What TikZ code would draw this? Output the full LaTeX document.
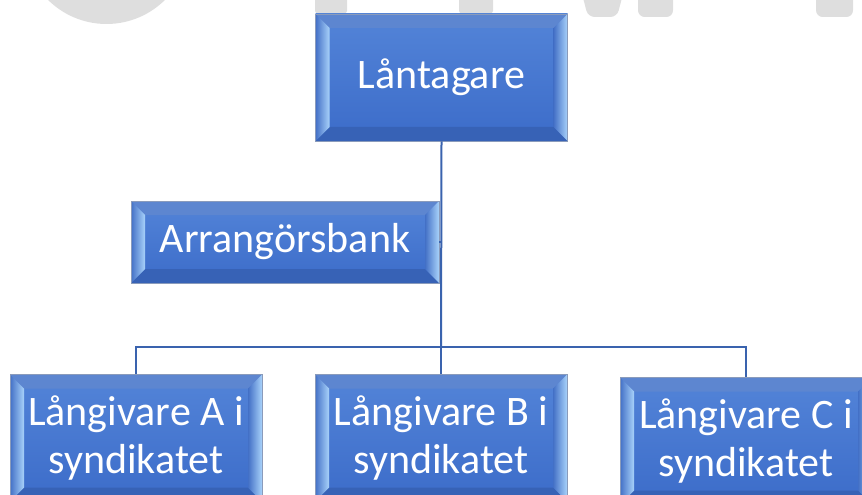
\documentclass[tikz,border=0pt]{standalone}
\usepackage{fontspec}
\setmainfont{Carlito}
\usetikzlibrary{calc}
\definecolor{facetop}{HTML}{5384D8}
\definecolor{facebot}{HTML}{3C6CC9}
\definecolor{bevtop}{HTML}{5D86D0}
\definecolor{bevbot}{HTML}{3762B6}
\definecolor{bevdark}{HTML}{4370C6}
\definecolor{bevlight}{HTML}{A8D2FA}
\definecolor{edgegray}{HTML}{8A9BBB}
\definecolor{linkblue}{HTML}{3A63AE}
\definecolor{wmgray}{HTML}{DEDEDE}
\def\bev{10.5pt}
\tikzset{
  bevelbox/.style={draw=edgegray, line width=0.6pt, top color=facetop, bottom color=facebot,
    text=white, inner sep=0pt, align=center, font=\fontsize{31.5}{35.5}\selectfont,
    path picture={
      \coordinate (bvnw) at (path picture bounding box.north west);
      \coordinate (bvne) at (path picture bounding box.north east);
      \coordinate (bvsw) at (path picture bounding box.south west);
      \coordinate (bvse) at (path picture bounding box.south east);
      \fill[bevtop] (bvnw) -- (bvne) -- ($(bvne)+(-\bev,-\bev)$) -- ($(bvnw)+(\bev,-\bev)$) -- cycle;
      \fill[bevbot] (bvsw) -- (bvse) -- ($(bvse)+(-\bev,\bev)$) -- ($(bvsw)+(\bev,\bev)$) -- cycle;
      \shade[left color=bevdark, middle color=bevdark, right color=bevlight]
        (bvnw) -- ($(bvnw)+(\bev,-\bev)$) -- ($(bvsw)+(\bev,\bev)$) -- (bvsw) -- cycle;
      \shade[left color=bevdark, right color=bevlight]
        (bvne) -- ($(bvne)+(-\bev,-\bev)$) -- ($(bvse)+(-\bev,\bev)$) -- (bvse) -- cycle;
    }},
  wide/.style={minimum width=189pt, minimum height=95.25pt},
  conn/.style={draw=linkblue, line width=1.5pt}
}
\begin{document}
\begin{tikzpicture}[x=0.75pt,y=-0.75pt]
  \useasboundingbox (0,0) rectangle (862,495);
  \clip (0,0) rectangle (862,495);
  % watermark rester
  \fill[wmgray] (106.5,-59) circle (83);
  \fill[wmgray, rounded corners=4] (315,-10) rectangle (347,16);
  \fill[wmgray, rounded corners=4] (459,-10) rectangle (493,16);
  \fill[wmgray, rounded corners=5] (581,-10) -- (624,-10) -- (617,17) -- (588,17) -- cycle;
  \fill[wmgray, rounded corners=5] (638,-10) rectangle (673,17);
  \fill[wmgray, rounded corners=5] (816,-10) rectangle (853,17);
  % rutor
  \node[bevelbox, wide] (lan) at (441.5,77.5) {Låntagare};
  \node[bevelbox, minimum width=231pt, minimum height=61.5pt] (arr) at (285,242) {Arrangörsbank};
  \node[bevelbox, wide] (givA) at (136,438) {Långivare A i\\syndikatet};
  \node[bevelbox, wide] (givB) at (441,438) {Långivare B i\\syndikatet};
  \node[bevelbox, wide] (givC) at (746,441) {Långivare C i\\syndikatet};
  % linjer
  \coordinate (bus) at (441,347);
  \draw[conn] (lan.south) -- (bus);
  \draw[conn] (arr.east) -- (arr.east -| bus);
  \draw[conn] (givA.north) |- (bus) -| (givC.north);
  \draw[conn] (givB.north) -- (bus);
\end{tikzpicture}
\end{document}
